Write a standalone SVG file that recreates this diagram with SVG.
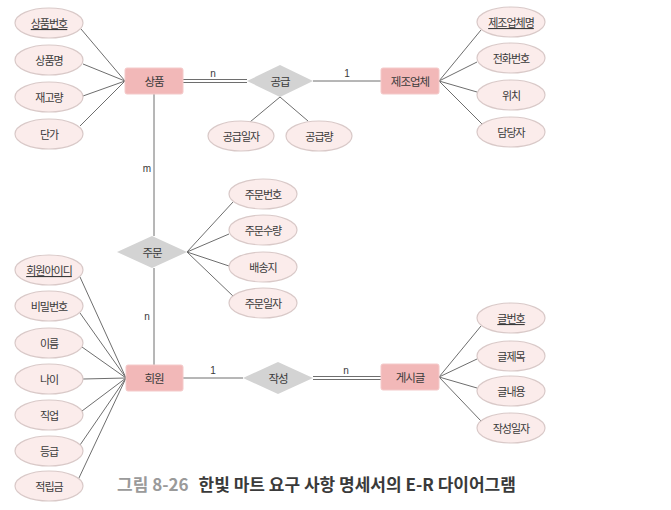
<svg xmlns="http://www.w3.org/2000/svg" width="671" height="510" viewBox="0 0 671 510">
<style>
text{font-family:"Noto Sans CJK KR","Noto Sans",sans-serif;fill:#3a3a3a;text-anchor:middle;dominant-baseline:central}
.a ellipse{fill:#fbeceb;stroke:#d9c9c8;stroke-width:1.2}
.a text{font-size:11px;letter-spacing:-1px}
.e rect{fill:#f2b8b8;stroke:#f4caca;stroke-width:1}
.e text{font-size:11.5px;letter-spacing:-1px}
.r polygon{fill:#d3d3d3}
.r text{font-size:11.5px;letter-spacing:-1px}
.k{text-decoration:underline}
.c line{stroke:#6e6e6e;stroke-width:1}
.c text{font-size:10px;font-family:"Liberation Sans",sans-serif}
.cap{font-size:17px;font-weight:bold;text-anchor:start;dominant-baseline:alphabetic}
</style>
<rect width="671" height="510" fill="#ffffff"/>
<g class="c" id="connectors">
<line x1="81" y1="29" x2="125" y2="81"/>
<line x1="83" y1="64" x2="125" y2="81"/>
<line x1="83" y1="96" x2="125" y2="81"/>
<line x1="80" y1="126" x2="125" y2="81"/>
<line x1="183" y1="79.5" x2="247" y2="79.5"/>
<line x1="183" y1="82.5" x2="247" y2="82.5"/>
<line x1="313" y1="81" x2="381" y2="81"/>
<line x1="280" y1="97" x2="250" y2="122"/>
<line x1="280" y1="97" x2="308" y2="121"/>
<line x1="439" y1="81" x2="481" y2="30"/>
<line x1="439" y1="81" x2="477" y2="62"/>
<line x1="439" y1="81" x2="477" y2="92"/>
<line x1="439" y1="81" x2="482" y2="124"/>
<line x1="154" y1="94" x2="154" y2="236"/>
<line x1="154" y1="268" x2="154" y2="365"/>
<line x1="187" y1="252" x2="233" y2="202"/>
<line x1="187" y1="252" x2="229" y2="234"/>
<line x1="187" y1="252" x2="229" y2="266"/>
<line x1="187" y1="252" x2="234" y2="297"/>
<line x1="80" y1="277" x2="126" y2="378"/>
<line x1="80" y1="313" x2="126" y2="378"/>
<line x1="82" y1="347" x2="126" y2="378"/>
<line x1="83" y1="379" x2="126" y2="378"/>
<line x1="82" y1="411" x2="126" y2="378"/>
<line x1="80" y1="445" x2="126" y2="378"/>
<line x1="78" y1="480" x2="126" y2="378"/>
<line x1="183" y1="378" x2="243" y2="378"/>
<line x1="313" y1="376.5" x2="381" y2="376.5"/>
<line x1="313" y1="379.5" x2="381" y2="379.5"/>
<line x1="439" y1="377" x2="481" y2="326"/>
<line x1="439" y1="377" x2="477" y2="359"/>
<line x1="439" y1="377" x2="477" y2="388"/>
<line x1="439" y1="377" x2="481" y2="421"/>
<text x="213" y="73">n</text>
<text x="347" y="73">1</text>
<text x="147" y="168">m</text>
<text x="147" y="316">n</text>
<text x="213" y="370">1</text>
<text x="346" y="370">n</text>
</g>
<g class="e" id="product"><rect x="125" y="68" width="58" height="26" rx="2"/><text x="154" y="81">상품</text></g>
<g class="e" id="maker"><rect x="381" y="68" width="58" height="26" rx="2"/><text x="410" y="81">제조업체</text></g>
<g class="e" id="member"><rect x="126" y="365" width="57" height="26" rx="2"/><text x="154" y="378">회원</text></g>
<g class="e" id="post"><rect x="381" y="364" width="58" height="26" rx="2"/><text x="410" y="377">게시글</text></g>
<g class="r" id="supply"><polygon points="247,81 280,65 313,81 280,97"/><text x="280" y="81">공급</text></g>
<g class="r" id="order"><polygon points="117,252 152,236 187,252 152,268"/><text x="152" y="252">주문</text></g>
<g class="r" id="write"><polygon points="243,378 278,362 313,378 278,394"/><text x="278" y="378">작성</text></g>
<g class="a" id="a-pno"><ellipse cx="49" cy="23" rx="34" ry="15"/><text class="k" x="49" y="23">상품번호</text></g>
<g class="a" id="a-pname"><ellipse cx="49" cy="60" rx="34" ry="15"/><text x="49" y="60">상품명</text></g>
<g class="a" id="a-stock"><ellipse cx="49" cy="97" rx="34" ry="15"/><text x="49" y="97">재고량</text></g>
<g class="a" id="a-price"><ellipse cx="49" cy="134" rx="34" ry="15"/><text x="49" y="134">단가</text></g>
<g class="a" id="a-sdate"><ellipse cx="241" cy="136" rx="33" ry="15"/><text x="241" y="136">공급일자</text></g>
<g class="a" id="a-sqty"><ellipse cx="319" cy="136" rx="33" ry="15"/><text x="319" y="136">공급량</text></g>
<g class="a" id="a-mname"><ellipse cx="511" cy="22" rx="34" ry="15"/><text class="k" x="511" y="22">제조업체명</text></g>
<g class="a" id="a-mtel"><ellipse cx="511" cy="58" rx="34" ry="15"/><text x="511" y="58">전화번호</text></g>
<g class="a" id="a-mloc"><ellipse cx="511" cy="95" rx="34" ry="15"/><text x="511" y="95">위치</text></g>
<g class="a" id="a-mmgr"><ellipse cx="511" cy="132" rx="34" ry="15"/><text x="511" y="132">담당자</text></g>
<g class="a" id="a-ono"><ellipse cx="263" cy="194" rx="34" ry="15"/><text x="263" y="194">주문번호</text></g>
<g class="a" id="a-oqty"><ellipse cx="263" cy="230" rx="34" ry="15"/><text x="263" y="230">주문수량</text></g>
<g class="a" id="a-oaddr"><ellipse cx="263" cy="267" rx="34" ry="15"/><text x="263" y="267">배송지</text></g>
<g class="a" id="a-odate"><ellipse cx="263" cy="303" rx="34" ry="15"/><text x="263" y="303">주문일자</text></g>
<g class="a" id="a-uid"><ellipse cx="49" cy="270" rx="34" ry="15"/><text class="k" x="49" y="270">회원아이디</text></g>
<g class="a" id="a-upw"><ellipse cx="49" cy="306" rx="34" ry="15"/><text x="49" y="306">비밀번호</text></g>
<g class="a" id="a-uname"><ellipse cx="49" cy="343" rx="34" ry="15"/><text x="49" y="343">이름</text></g>
<g class="a" id="a-uage"><ellipse cx="49" cy="379" rx="34" ry="15"/><text x="49" y="379">나이</text></g>
<g class="a" id="a-ujob"><ellipse cx="49" cy="415" rx="34" ry="15"/><text x="49" y="415">직업</text></g>
<g class="a" id="a-ugrade"><ellipse cx="49" cy="451" rx="34" ry="15"/><text x="49" y="451">등급</text></g>
<g class="a" id="a-upoint"><ellipse cx="49" cy="486" rx="34" ry="15"/><text x="49" y="486">적립금</text></g>
<g class="a" id="a-bno"><ellipse cx="511" cy="318" rx="34" ry="15"/><text class="k" x="511" y="318">글번호</text></g>
<g class="a" id="a-btitle"><ellipse cx="511" cy="356" rx="34" ry="15"/><text x="511" y="356">글제목</text></g>
<g class="a" id="a-bbody"><ellipse cx="511" cy="391" rx="34" ry="15"/><text x="511" y="391">글내용</text></g>
<g class="a" id="a-bdate"><ellipse cx="511" cy="428" rx="34" ry="15"/><text x="511" y="428">작성일자</text></g>
<text class="cap" x="117" y="491"><tspan fill="#9a9a9a" style="fill:#9a9a9a">그림 8-26</tspan><tspan dx="10">한빛 마트 요구 사항 명세서의 E-R 다이어그램</tspan></text>
</svg>
